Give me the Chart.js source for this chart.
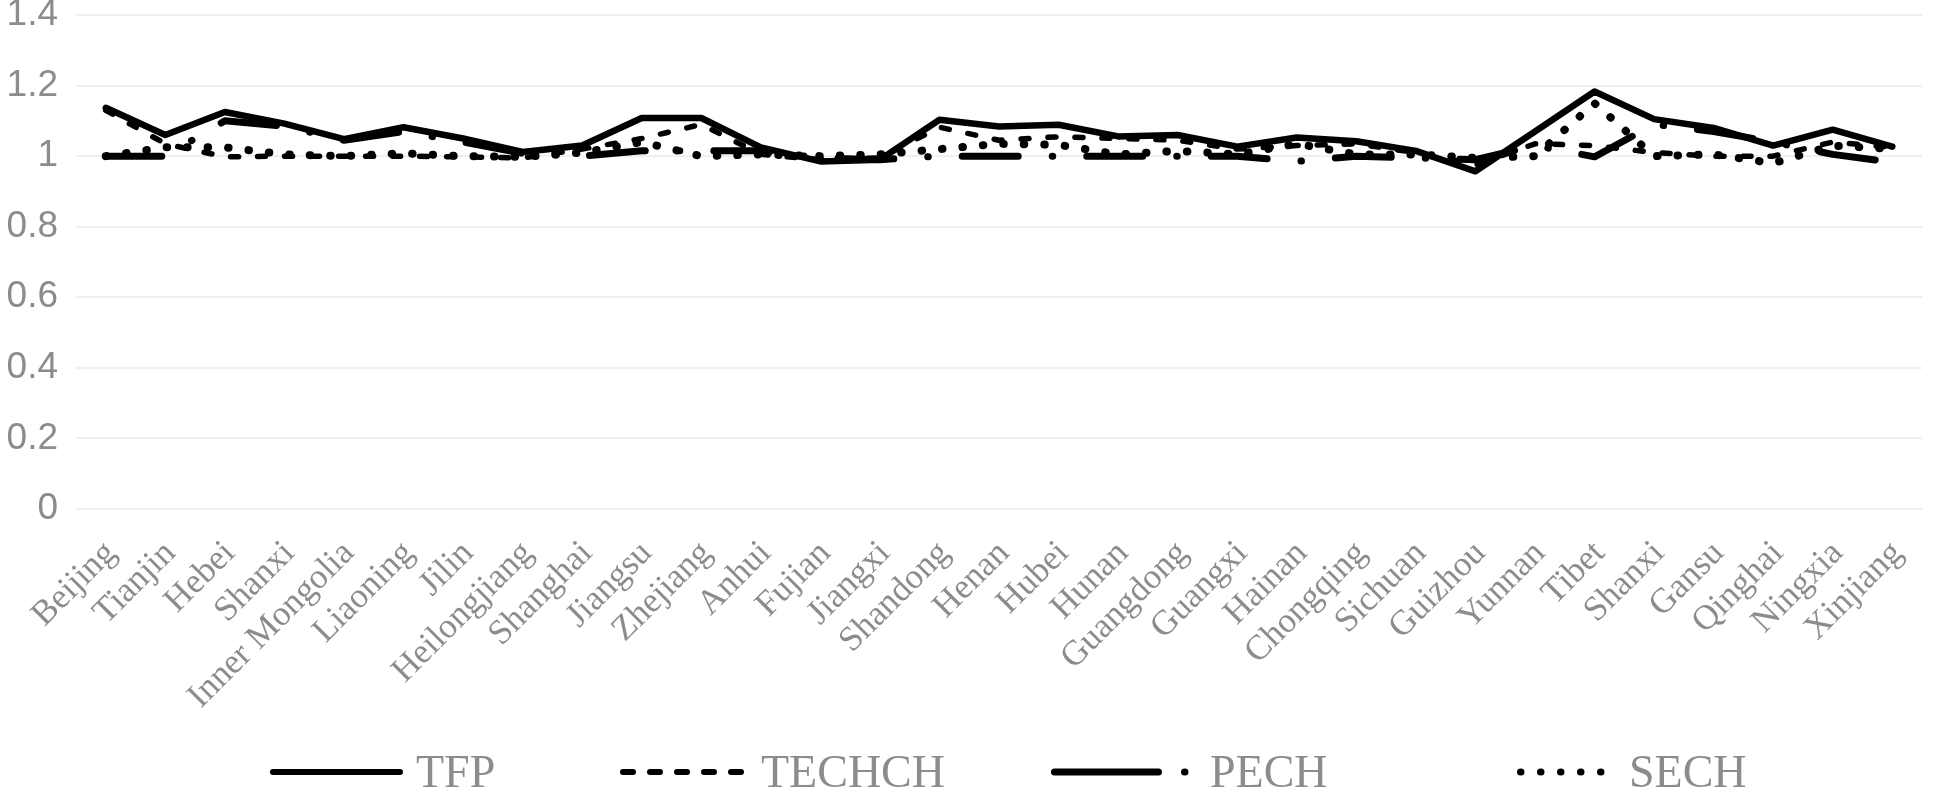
<!DOCTYPE html>
<html lang="en">
<head>
    <meta charset="UTF-8">
    <title>TFP decomposition by province</title>
    <script src="https://cdn.jsdelivr.net/npm/chart.js"></script>
    <style>
        body { margin: 0; background: #fff; }
        #wrap { width: 1946px; height: 788px; }
    </style>
</head>
<body>

    <div id="wrap"><canvas id="tfpChart"></canvas></div>

    <script>
        // provinces (x axis)
        const provinces = ["Beijing", "Tianjin", "Hebei", "Shanxi", "Inner Mongolia", "Liaoning", "Jilin",
            "Heilongjiang", "Shanghai", "Jiangsu", "Zhejiang", "Anhui", "Fujian", "Jiangxi", "Shandong",
            "Henan", "Hubei", "Hunan", "Guangdong", "Guangxi", "Hainan", "Chongqing", "Sichuan", "Guizhou",
            "Yunnan", "Tibet", "Shanxi", "Gansu", "Qinghai", "Ningxia", "Xinjiang"];

        // values
        const tfp    = [1.137, 1.060, 1.125, 1.092, 1.048, 1.082, 1.050, 1.012, 1.030, 1.108, 1.108, 1.025, 0.985, 0.990, 1.103,
                        1.084, 1.089, 1.056, 1.060, 1.027, 1.053, 1.042, 1.015, 0.957, 1.070, 1.183, 1.105, 1.080, 1.030, 1.075, 1.027];
        const techch = [1.130, 1.035, 0.998, 1.000, 1.000, 1.000, 0.998, 0.995, 1.020, 1.050, 1.090, 1.005, 0.990, 0.995, 1.082,
                        1.045, 1.055, 1.050, 1.045, 1.020, 1.030, 1.035, 1.010, 0.975, 1.035, 1.030, 1.010, 1.000, 1.000, 1.040, 1.025];
        const pech   = [1.000, 1.000, 1.100, 1.085, 1.045, 1.070, 1.040, 1.008, 1.000, 1.015, 1.015, 1.015, 0.995, 0.990, 1.000,
                        1.000, 1.000, 1.000, 1.000, 1.000, 0.985, 1.000, 0.995, 0.990, 1.030, 0.998, 1.090, 1.070, 1.040, 1.005, 0.983];
        const sech   = [1.000, 1.025, 1.025, 1.005, 1.000, 1.008, 1.000, 0.998, 1.010, 1.040, 1.000, 1.005, 1.000, 1.005, 1.020,
                        1.035, 1.032, 1.005, 1.015, 1.005, 1.035, 1.005, 1.005, 0.995, 1.000, 1.150, 1.000, 1.005, 0.980, 1.030, 1.020];

        const yTicks = { min: 0, max: 1.4, step: 0.2 };

        const grey = "#8c8c8c";

        // legend drawn under the plot, line sample + text
        const legendLines = {
            id: "legendLines",
            afterDraw(chart) {
                const ctx = chart.ctx;
                const items = [
                    { x0: 270,  x1: 403,  tx: 416 },
                    { x0: 620,  x1: 751,  tx: 761 },
                    { x0: 1051, x1: 1196, tx: 1210 },
                    { x0: 1517, x1: 1622, tx: 1629 }
                ];
                const y = 772;
                chart.data.datasets.forEach((ds, i) => {
                    const it = items[i];
                    const w = ds.legendWidth;
                    ctx.save();
                    ctx.strokeStyle = "#000";
                    ctx.lineWidth = w;
                    ctx.lineCap = "round";
                    ctx.setLineDash(ds.legendDash || []);
                    ctx.beginPath();
                    ctx.moveTo(it.x0 + w / 2, y);
                    ctx.lineTo(it.x1 - w / 2, y);
                    ctx.stroke();
                    ctx.restore();

                    ctx.save();
                    ctx.fillStyle = grey;
                    ctx.font = '46px "Liberation Serif"';
                    ctx.textBaseline = "alphabetic";
                    ctx.fillText(ds.label, it.tx, 787);
                    ctx.restore();
                });
            }
        };

        function lineSet(label, data, width, dash, legendWidth, legendDash) {
            return {
                label: label,
                data: data,
                borderColor: "#000",
                backgroundColor: "#000",
                borderWidth: width,
                borderDash: dash,
                borderCapStyle: "round",
                borderJoinStyle: "round",
                pointRadius: 0,
                pointHoverRadius: 0,
                tension: 0,
                fill: false,
                legendWidth: legendWidth,
                legendDash: legendDash
            };
        }

        const ctx = document.getElementById("tfpChart").getContext("2d");
        new Chart(ctx, {
            type: "line",
            data: {
                labels: provinces,
                datasets: [
                    lineSet("TFP", tfp, 6.5, [], 6, []),
                    lineSet("TECHCH", techch, 5.5, [8, 19], 6, [10, 17]),
                    lineSet("PECH", pech, 7, [56, 34, 0.5, 34], 7, [104, 26, 0.5, 200]),
                    lineSet("SECH", sech, 8, [0.5, 20], 7, [0.5, 19.5])
                ]
            },
            options: {
                responsive: true,
                maintainAspectRatio: false,
                animation: false,
                layout: { padding: { top: 15, right: 0, bottom: 0, left: 0 } },
                plugins: {
                    legend: { display: false },
                    tooltip: { enabled: false }
                },
                scales: {
                    x: {
                        offset: true,
                        grid: { display: false, drawTicks: false },
                        border: { display: false },
                        ticks: {
                            autoSkip: false,
                            minRotation: 45,
                            maxRotation: 45,
                            padding: 24,
                            labelOffset: 5,
                            color: grey,
                            font: { family: "Liberation Serif", size: 35 }
                        },
                        afterFit(scale) { scale.height = 279; }
                    },
                    y: {
                        min: yTicks.min,
                        max: yTicks.max,
                        grid: { color: "#efefef", lineWidth: 2, drawTicks: false },
                        border: { display: false },
                        ticks: {
                            stepSize: yTicks.step,
                            padding: 18,
                            color: grey,
                            font: { family: "Liberation Sans", size: 37 },
                            callback: v => String(Math.round(v * 10) / 10)
                        },
                        afterFit(scale) {
                            scale.width = 76;
                            scale.paddingTop = 0;
                            scale.paddingBottom = 0;
                        }
                    }
                }
            },
            plugins: [legendLines]
        });
    </script>

</body>
</html>
